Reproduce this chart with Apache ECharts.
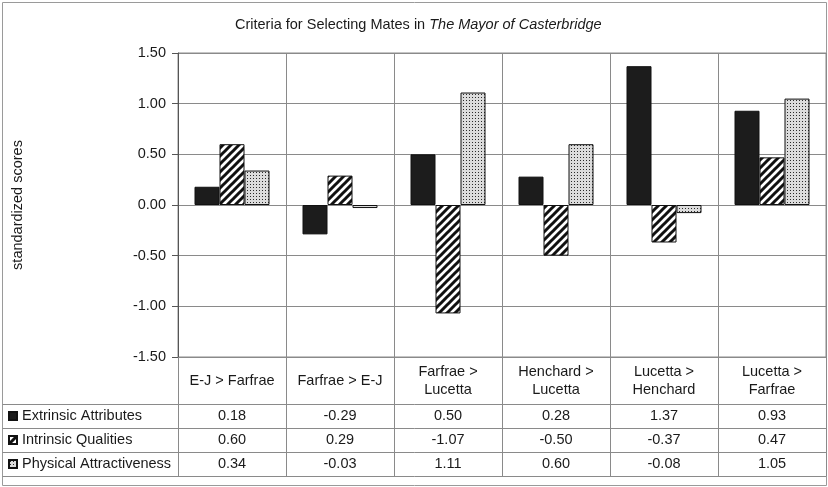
<!DOCTYPE html>
<html><head><meta charset="utf-8">
<script src="https://cdn.jsdelivr.net/npm/echarts@6/dist/echarts.min.js"></script>
<style>html,body{margin:0;padding:0;background:#fff}#c{width:828px;height:487px}</style>
</head><body><div id="c"></div>
<script>
const categories = ['E-J > Farfrae','Farfrae > E-J','Farfrae > Lucetta','Henchard > Lucetta','Lucetta > Henchard','Lucetta > Farfrae'];
const extrinsic = [0.18,-0.29,0.50,0.28,1.37,0.93];
const intrinsic = [0.60,0.29,-1.07,-0.50,-0.37,0.47];
const physical = [0.34,-0.03,1.11,0.60,-0.08,1.05];
const seriesNames = ['Extrinsic Attributes','Intrinsic Qualities','Physical Attractiveness'];
const yMin = -1.5, yMax = 1.5, yInterval = 0.5;

const FONT = 'Liberation Sans, Arial, sans-serif';
const FS = 14.5;
const TXT = '#1a1a1a';
const GRIDC = '#8a8a8a';

function stripeTile(){
  const c=document.createElement('canvas'); c.width=8; c.height=8;
  const g=c.getContext('2d');
  g.fillStyle='#fff'; g.fillRect(0,0,8,8);
  g.strokeStyle='#111'; g.lineWidth=3; g.beginPath();
  g.moveTo(-2,10); g.lineTo(10,-2);
  g.moveTo(-4,4); g.lineTo(4,-4);
  g.moveTo(4,12); g.lineTo(12,4);
  g.stroke();
  return c;
}
function dotTile(){
  const c=document.createElement('canvas'); c.width=3; c.height=3;
  const g=c.getContext('2d');
  g.fillStyle='#dcdcdc'; g.fillRect(0,0,3,3);
  g.fillStyle='#2a2a2a';
  g.fillRect(1,1,1,1);
  return c;
}

const gridLeft=178, gridTop=53, gridBottomY=357, gridRight=826;
const rowTop=404, rowH=24;
const tableRows=[extrinsic,intrinsic,physical];

const chart = echarts.init(document.getElementById('c'), null, {renderer:'canvas'});

const xAxes = [{
  type:'category', data: categories, position:'bottom',
  axisLine:{onZero:false, show:true, lineStyle:{color:GRIDC}},
  axisTick:{show:true, interval:0, length: rowTop + rowH*3 - gridBottomY, lineStyle:{color:GRIDC}},
  splitLine:{show:true, interval:0, lineStyle:{color:GRIDC}},
  axisLabel:{interval:0, margin:(rowTop-gridBottomY)/2, verticalAlign:'middle', lineHeight:18,
    fontSize:FS, color:TXT, fontFamily:FONT,
    formatter: v => v.length>14 ? v.replace(' > ',' >\n') : v}
}];
tableRows.forEach((arr,i)=>{
  xAxes.push({
    type:'category', data: arr.map(v=>v.toFixed(2)), position:'bottom',
    axisLine:{show:false}, axisTick:{show:false}, splitLine:{show:false},
    axisLabel:{interval:0, margin: rowTop - gridBottomY + rowH*i + rowH/2, verticalAlign:'middle',
      fontSize:FS, color:TXT, fontFamily:FONT}
  });
});

const graphics = [
  {type:'rect', shape:{x:2.5,y:2.5,width:824,height:483}, style:{fill:'none', stroke:'#9a9a9a', lineWidth:1}, silent:true}
];
for(let i=0;i<4;i++){
  const y = rowTop + rowH*i + 0.5;
  graphics.push({type:'line', shape:{x1:2.5,y1:y,x2:gridRight,y2:y}, style:{stroke:GRIDC, lineWidth:1}, silent:true});
}

chart.setOption({
  animation:false,
  backgroundColor:'#fff',
  title:{
    text:'Criteria for Selecting Mates in {i|The Mayor of Casterbridge}',
    left:235, top:17, padding:0,
    textStyle:{fontSize:FS, fontWeight:'normal', color:TXT, fontFamily:FONT,
      rich:{i:{fontStyle:'italic', fontSize:FS, color:TXT, fontFamily:FONT}}}
  },
  legend:{
    orient:'vertical', left:8, top:rowTop, padding:0, itemGap:0, icon:'rect',
    itemWidth:8, itemHeight:8, selectedMode:false, data:seriesNames,
    textStyle:{fontSize:FS, lineHeight:rowH, color:TXT, fontFamily:FONT}
  },
  grid:{left:gridLeft, top:gridTop, right:828-gridRight, bottom:487-gridBottomY,
    show:true, borderColor:GRIDC, borderWidth:1, containLabel:false, outerBoundsMode:'none'},
  xAxis: xAxes,
  yAxis:{
    type:'value', min:yMin, max:yMax, interval:yInterval,
    name:'standardized scores', nameLocation:'middle', nameGap:153,
    nameTextStyle:{fontSize:FS, color:TXT, fontFamily:FONT},
    axisLine:{show:true, lineStyle:{color:'#555'}},
    axisTick:{show:true, length:6, lineStyle:{color:'#555'}},
    splitLine:{show:true, lineStyle:{color:GRIDC}},
    axisLabel:{formatter:v=>v.toFixed(2), margin:12, fontSize:FS, color:TXT, fontFamily:FONT}
  },
  series:[
    {name:seriesNames[0], type:'bar', data:extrinsic, barWidth:25, barGap:'0%',
      itemStyle:{color:'#1c1c1c', borderColor:'#111', borderWidth:1}},
    {name:seriesNames[1], type:'bar', data:intrinsic, barWidth:25, barGap:'0%',
      itemStyle:{color:{image:stripeTile(), repeat:'repeat'}, borderColor:'#111', borderWidth:1}},
    {name:seriesNames[2], type:'bar', data:physical, barWidth:25, barGap:'0%',
      itemStyle:{color:{image:dotTile(), repeat:'repeat'}, borderColor:'#111', borderWidth:1}}
  ],
  graphic: graphics
});
</script></body></html>
